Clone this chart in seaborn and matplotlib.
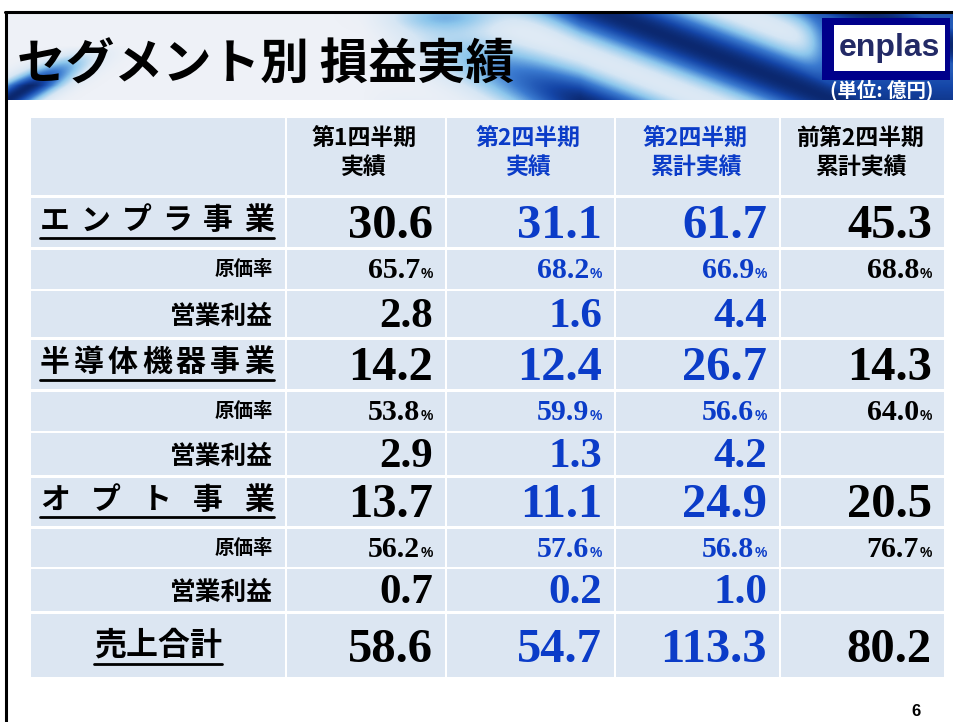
import numpy as np
import matplotlib
matplotlib.use("Agg")
import matplotlib.pyplot as plt
from matplotlib.patches import Rectangle
from matplotlib.colors import LinearSegmentedColormap
import seaborn as sns

sns.set_theme(style="white")
plt.rcParams['font.family'] = ['Noto Sans CJK JP', 'DejaVu Sans']

# ---------------- data ----------------
title = "セグメント別 損益実績"
unit_label = "(単位: 億円)"
col_headers = [["第1四半期", "実績"], ["第2四半期", "実績"],
               ["第2四半期", "累計実績"], ["前第2四半期", "累計実績"]]
col_blue = [False, True, True, False]
segments = ["エンプラ事業", "半導体機器事業", "オプト事業"]
sales = [[30.6, 31.1, 61.7, 45.3],
         [14.2, 12.4, 26.7, 14.3],
         [13.7, 11.1, 24.9, 20.5]]
cost_ratio = [[65.7, 68.2, 66.9, 68.8],
              [53.8, 59.9, 56.6, 64.0],
              [56.2, 57.6, 56.8, 76.7]]
op_profit = [[2.8, 1.6, 4.4, None],
             [2.9, 1.3, 4.2, None],
             [0.7, 0.2, 1.0, None]]
total_label = "売上合計"
totals = [58.6, 54.7, 113.3, 80.2]
sub_labels = ["原価率", "営業利益"]
page_no = "6"

# ---------------- layout ----------------
W, H = 954, 722
fig = plt.figure(figsize=(W / 100, H / 100), dpi=100)
ax = fig.add_axes([0, 0, 1, 1])
ax.set_xlim(0, W)
ax.set_ylim(H, 0)
ax.axis('off')

BLUE = "#0b3cc8"
CELL = "#dce6f2"
NUMF = ['Liberation Serif', 'DejaVu Serif']

# decorative title band (pixel grid)
px = np.arange(6, W, 1.0)
py = np.arange(12, 100, 1.0)
X, Y = np.meshgrid(px, py)
s = X - 2.6 * (Y - 12)
env = np.clip((X - 360) / 220, 0, 1) ** 1.2
streak = 0.55 + 0.40 * np.sin(2 * np.pi * (s - 540) / 260)
v = env * streak
# light blue hint on top middle
v += 0.35 * np.exp(-((X - 450) ** 2) / 3000 - ((Y - 15) ** 2) / 200)
# bottom-left swoosh
d = (X - 6) - 1.6 * (100 - Y)
v += 0.95 * np.exp(-(d ** 2) / 900) * np.clip((Y - 45) / 40, 0, 1) * (X < 130)
# darker area behind logo / unit label (smooth blend)
w = 1 / (1 + np.exp(-(X - 815) / 8))
target = 0.72 + 0.15 * np.clip((Y - 70) / 30, 0, 1)
v = v * (1 - w) + np.maximum(v, target) * w
v = np.clip(v, 0, 1)
cmap = LinearSegmentedColormap.from_list(
    "band", ["#eef1f7", "#d6e6f4", "#8cc6ec", "#3b7bd0", "#1546a8", "#081f5e"])
ax.imshow(v, cmap=cmap, extent=(6, W, 100, 12), aspect='auto', zorder=0,
          interpolation='bilinear', vmin=0, vmax=1)

# slide border
ax.plot([5, W], [12, 12], color='black', lw=2.2, zorder=5)
ax.plot([6.5, 6.5], [12, H], color='black', lw=2.2, zorder=5)

ax.text(17, 65, title, fontsize=35, fontweight='bold', color='black',
        va='center', ha='left', zorder=3)

# logo
ax.add_patch(Rectangle((822, 18), 128, 62, facecolor="#00008b", edgecolor='none', zorder=3))
ax.add_patch(Rectangle((834, 25), 111, 46, facecolor="white", edgecolor='none', zorder=4))
ax.text(889, 48, "enplas", fontsize=23, color="#232a66", family=['Liberation Sans', 'DejaVu Sans'],
        fontweight='bold', ha='center', va='center', zorder=5)
ax.text(882, 90, unit_label, fontsize=14, color='white', fontweight='bold',
        ha='center', va='center', zorder=5)

# table geometry
col_edges = [(31, 285), (287, 445), (447, 614), (616, 779), (781, 944)]
row_edges = [(118, 195),
             (198, 247), (250, 289), (291, 337),
             (340, 389), (392, 431), (433, 475),
             (478, 526), (529, 567), (569, 611),
             (614, 677)]

for (y0, y1) in row_edges:
    for (x0, x1) in col_edges:
        ax.add_patch(Rectangle((x0, y0), x1 - x0, y1 - y0, facecolor=CELL,
                               edgecolor='none', zorder=1))

# headers
for j, hdr in enumerate(col_headers):
    x0, x1 = col_edges[j + 1]
    for k, line in enumerate(hdr):
        ax.text((x0 + x1) / 2 - 2, 139 + 28 * k, line, fontsize=16.5, fontweight='bold',
                color=BLUE if col_blue[j] else 'black', ha='center', va='center',
                zorder=3)

def spaced_label(text, y, x0=40, x1=274, size=21.5):
    n = len(text)
    cw = size * 1.389
    centers = np.linspace(x0 + cw / 2, x1 - cw / 2, n)
    for c, xc in zip(text, centers):
        ax.text(xc, y, c, fontsize=size, fontweight='bold', ha='center',
                va='center', color='black', zorder=3)
    ax.plot([x0, x1], [y + 17, y + 17], color='black', lw=2, zorder=3)

def num_text(j, y, val, size, pct=False):
    x0, x1 = col_edges[j + 1]
    xr = x1 - 12
    color = BLUE if col_blue[j] else 'black'
    if val is None:
        return
    if pct:
        ax.text(xr, y + 4, "%", fontsize=10, fontweight='bold', color=color,
                family=['Liberation Sans', 'DejaVu Sans'], ha='right', va='baseline', zorder=3)
        ax.text(xr - 13, y + 4, f"{val:.1f}", fontsize=size, fontweight='bold',
                color=color, family=NUMF, ha='right', va='baseline', zorder=3)
    else:
        ax.text(xr, y, f"{val:.1f}", fontsize=size, fontweight='bold',
                color=color, family=NUMF, ha='right', va='baseline', zorder=3)

for i, seg in enumerate(segments):
    r_main, r_cost, r_op = row_edges[1 + 3 * i: 4 + 3 * i]
    ym = (r_main[0] + r_main[1]) / 2
    spaced_label(seg, ym - 2)
    yc = (r_cost[0] + r_cost[1]) / 2
    ax.text(273, yc, sub_labels[0], fontsize=14, fontweight='bold', ha='right',
            va='center', color='black', zorder=3)
    yo = (r_op[0] + r_op[1]) / 2
    ax.text(273, yo + 2, sub_labels[1], fontsize=18.5, fontweight='bold', ha='right',
            va='center', color='black', zorder=3)
    for j in range(4):
        num_text(j, ym + 15, sales[i][j], 35)
        num_text(j, yc + 5, cost_ratio[i][j], 21.5, pct=True)
        num_text(j, yo + 13, op_profit[i][j], 31)

rt = row_edges[-1]
yt = (rt[0] + rt[1]) / 2
ax.text(158, yt, total_label, fontsize=23, fontweight='bold', ha='center',
        va='center', color='black', zorder=3)
ax.plot([94, 222], [yt + 18, yt + 18], color='black', lw=2, zorder=3)
for j in range(4):
    num_text(j, yt + 17, totals[j], 35)

ax.text(916, 712, page_no, fontsize=12, fontweight='bold', ha='center',
        va='center', color='black', family=['Liberation Sans', 'DejaVu Sans'])

fig.savefig("out.png", dpi=100)
